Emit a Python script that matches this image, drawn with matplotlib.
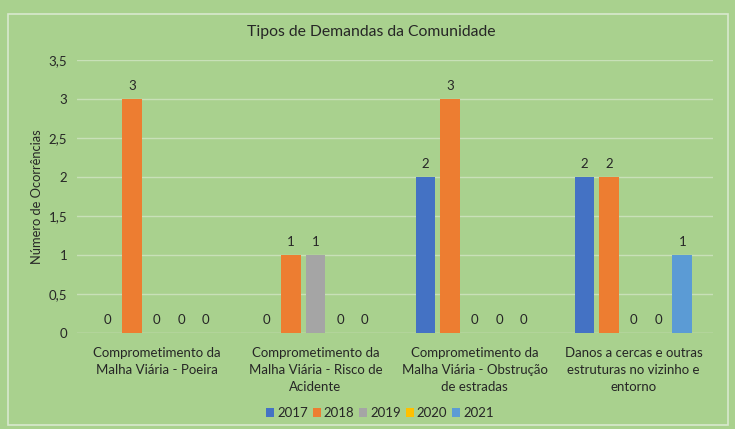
import numpy as np
import matplotlib.pyplot as plt
from matplotlib.patches import Rectangle

plt.rcParams['font.family'] = ['Lato', 'DejaVu Sans']

categories = ["Comprometimento da\nMalha Viária - Poeira",
              "Comprometimento da\nMalha Viária - Risco de\nAcidente",
              "Comprometimento da\nMalha Viária - Obstrução\nde estradas",
              "Danos a cercas e outras\nestruturas no vizinho e\nentorno"]
years = ["2017", "2018", "2019", "2020", "2021"]
v2017 = [0, 0, 2, 2]
v2018 = [3, 1, 3, 2]
v2019 = [0, 1, 0, 0]
v2020 = [0, 0, 0, 0]
v2021 = [0, 0, 0, 1]
series = [v2017, v2018, v2019, v2020, v2021]
colors = ["#4472C4", "#ED7D31", "#A5A5A5", "#FFC000", "#5B9BD5"]

bg = "#A9D18E"
txt = "#262626"
fig = plt.figure(figsize=(7.35, 4.29), dpi=100, facecolor=bg)
ax = fig.add_axes([0.1048, 0.2238, 0.8652, 0.6362])
ax.set_facecolor(bg)

# light border around the chart
fig.patches.append(Rectangle((8/735, 4/429), 720/735, 411/429, transform=fig.transFigure,
                             fill=False, edgecolor="#D9E8CE", linewidth=1.2))

x = np.arange(len(categories))
step = 0.154
width = 0.125
for i, (yr, vals, c) in enumerate(zip(years, series, colors)):
    pos = x + (i - 2) * step
    ax.bar(pos, vals, width, color=c, label=yr, zorder=3)
    for p, v in zip(pos, vals):
        ax.annotate(str(v), (p, v), xytext=(0, 5), textcoords="offset points",
                    ha="center", va="bottom", fontsize=9.5, color=txt)

ax.set_xlim(-0.5, 3.5)
ax.set_ylim(0, 3.5)
ax.set_yticks(np.arange(0, 3.51, 0.5))
ax.set_yticklabels(["0", "0,5", "1", "1,5", "2", "2,5", "3", "3,5"])
ax.set_xticks(x)
ax.set_xticklabels(categories, fontsize=9.5, color=txt, linespacing=1.5, va="top")
ax.tick_params(axis="y", labelsize=9.5, colors=txt, length=0, pad=7)
ax.tick_params(axis="x", length=0, pad=10)
ax.grid(axis="y", color="#C8E0B8", linewidth=1, zorder=0)
for s in ax.spines.values():
    s.set_visible(False)
ax.axhline(0, color="#BFD9AD", linewidth=1, zorder=2)

ax.set_ylabel("Número de Ocorrências", fontsize=9.3, color=txt, labelpad=4)
fig.text(371/735, 1 - 32/429, "Tipos de Demandas da Comunidade", fontsize=11.3,
         color=txt, ha="center", va="center")

ax.legend(loc="center", bbox_to_anchor=(380/735, 1 - 413/429), ncol=5, frameon=False,
          fontsize=9.5, handlelength=0.6, handleheight=0.6, handletextpad=0.25,
          columnspacing=0.35, labelcolor=txt, bbox_transform=fig.transFigure)

plt.savefig("out.png", dpi=100, facecolor=bg)
